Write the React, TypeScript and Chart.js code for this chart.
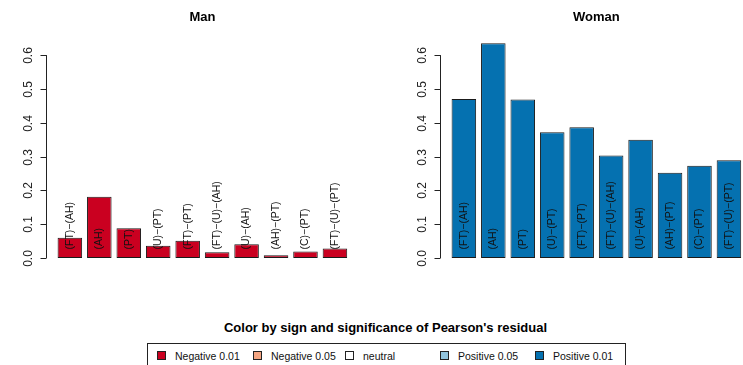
import React, { useEffect, useRef } from "react";
import { Chart, registerables } from "chart.js";

Chart.register(...registerables);

// Pattern categories shown under each bar
const categories = [
  "(FT)−(AH)",
  "(AH)",
  "(PT)",
  "(U)−(PT)",
  "(FT)−(PT)",
  "(FT)−(U)−(AH)",
  "(U)−(AH)",
  "(AH)−(PT)",
  "(C)−(PT)",
  "(FT)−(U)−(PT)",
];

// Proportions per group
const manValues = [0.06, 0.181, 0.088, 0.036, 0.051, 0.017, 0.041, 0.008, 0.019, 0.028];
const womanValues = [0.47, 0.635, 0.469, 0.372, 0.387, 0.303, 0.35, 0.252, 0.273, 0.289];

// Shared value axis
const yTicks = [0, 0.1, 0.2, 0.3, 0.4, 0.5, 0.6];
const yTickLabels = ["0.0", "0.1", "0.2", "0.3", "0.4", "0.5", "0.6"];
const yMin = -0.0254;
const yMax = 0.6604;

// Residual colour key
const legendLabels = ["Negative 0.01", "Negative 0.05", "neutral", "Positive 0.05", "Positive 0.01"];
const legendColors = ["#CA0020", "#F4A582", "#FFFFFF", "#92C5DE", "#0571B0"];
const legendX = [161, 257, 349, 444, 539];

const FONT = "'Liberation Sans', Arial, Helvetica, sans-serif";

const CANVAS_W = 380;
const CANVAS_H = 280;

const rAxisPlugin = {
  id: "rAxis",
  afterDatasetsDraw(chart: any) {
    const { ctx, chartArea, scales } = chart;
    const y = scales.y;
    const x = scales.x;
    const axisX = chartArea.left;
    ctx.save();
    // axis line spanning the tick range
    ctx.strokeStyle = "#222";
    ctx.lineWidth = 1;
    ctx.beginPath();
    ctx.moveTo(axisX + 0.5, y.getPixelForValue(yTicks[0]));
    ctx.lineTo(axisX + 0.5, y.getPixelForValue(yTicks[yTicks.length - 1]));
    ctx.stroke();
    ctx.font = `12px ${FONT}`;
    ctx.fillStyle = "#222";
    ctx.textAlign = "center";
    ctx.textBaseline = "middle";
    yTicks.forEach((v, i) => {
      const py = Math.round(y.getPixelForValue(v)) + 0.5;
      ctx.beginPath();
      ctx.moveTo(axisX + 0.5, py);
      ctx.lineTo(axisX - 5.5, py);
      ctx.stroke();
      ctx.save();
      ctx.translate(axisX - 17, py);
      ctx.rotate(-Math.PI / 2);
      ctx.fillText(yTickLabels[i], 0, 0);
      ctx.restore();
    });
    // category labels written upward inside the bars
    ctx.font = `10.5px ${FONT}`;
    ctx.textAlign = "left";
    ctx.fillStyle = "#111";
    const base = y.getPixelForValue(0) - 8.5;
    categories.forEach((c, i) => {
      ctx.save();
      ctx.translate(x.getPixelForValue(i), base);
      ctx.rotate(-Math.PI / 2);
      ctx.fillText(c, 0, 0);
      ctx.restore();
    });
    // panel title
    const title = chart.options.plugins.rAxis.title;
    ctx.font = `bold 13px ${FONT}`;
    ctx.fillStyle = "#000";
    ctx.textAlign = "center";
    ctx.fillText(title, (chartArea.left + chartArea.right) / 2, 17);
    ctx.restore();
  },
};

function Panel({ title, values, color, left }: { title: string; values: number[]; color: string; left: number }) {
  const ref = useRef<HTMLCanvasElement | null>(null);
  useEffect(() => {
    if (!ref.current) return;
    const chart = new Chart(ref.current, {
      type: "bar",
      data: {
        datasets: [
          {
            data: values.map((v, i) => ({ x: i, y: v })),
            backgroundColor: color,
            borderColor: "#1a1a1a",
            borderWidth: 1,
            borderSkipped: false,
            barPercentage: 1 / 1.2,
            categoryPercentage: 1,
          },
        ],
      },
      options: {
        animation: false,
        responsive: false,
        maintainAspectRatio: false,
        devicePixelRatio: 1,
        layout: { padding: { left: 60, right: CANVAS_W - 60 - 312.8, top: 34.7, bottom: CANVAS_H - 266.6 } },
        scales: {
          x: { type: "linear", min: -0.81, max: 9.81, offset: false, display: false },
          y: { type: "linear", min: yMin, max: yMax, display: false },
        },
        plugins: {
          legend: { display: false },
          tooltip: { enabled: false },
          rAxis: { title },
        } as any,
      },
      plugins: [rAxisPlugin],
    } as any);
    return () => chart.destroy();
  }, [title, values, color]);
  return (
    <canvas
      ref={ref}
      width={CANVAS_W}
      height={CANVAS_H}
      style={{ position: "absolute", left, top: 0, width: CANVAS_W, height: CANVAS_H }}
    />
  );
}

export default function App() {
  return (
    <div
      style={{
        position: "fixed",
        left: 0,
        top: 0,
        width: 743,
        height: 365,
        overflow: "hidden",
        background: "#fff",
        fontFamily: FONT,
      }}
    >
      <Panel title="Man" values={manValues} color="#CA0020" left={-14} />
      <Panel title="Woman" values={womanValues} color="#0571B0" left={380} />
      <div
        style={{
          position: "absolute",
          left: 0,
          width: 771,
          top: 320,
          textAlign: "center",
          fontWeight: "bold",
          fontSize: 13,
          lineHeight: "16px",
          color: "#000",
        }}
      >
        Color by sign and significance of Pearson's residual
      </div>
      <div
        style={{
          position: "absolute",
          left: 147,
          top: 343,
          width: 477,
          height: 40,
          border: "1px solid #222",
        }}
      />
      {legendLabels.map((lab, i) => (
        <React.Fragment key={lab}>
          <div
            style={{
              position: "absolute",
              left: legendX[i] - 4,
              top: 351,
              width: 7,
              height: 7,
              background: legendColors[i],
              border: "1px solid #222",
            }}
          />
          <div
            style={{
              position: "absolute",
              left: legendX[i] + 14,
              top: 348,
              fontSize: 10.5,
              lineHeight: "16px",
              color: "#111",
              whiteSpace: "nowrap",
            }}
          >
            {lab}
          </div>
        </React.Fragment>
      ))}
    </div>
  );
}
